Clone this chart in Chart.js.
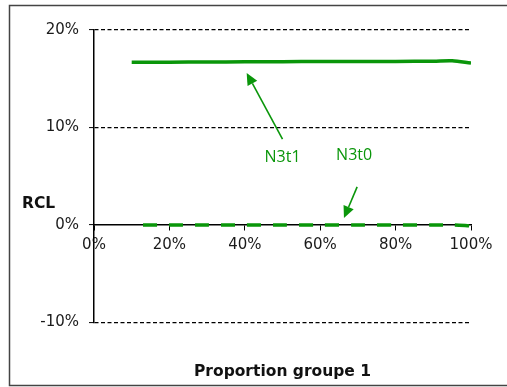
<!DOCTYPE html>
<html>
<head>
<meta charset="utf-8">
<script src="https://cdn.jsdelivr.net/npm/chart.js@4/dist/chart.umd.min.js"></script>
<style>
    html, body { margin: 0; padding: 0; background: #fff; overflow: hidden; }
    canvas { display: block; }
</style>
</head>
<body>
<canvas id="chart" width="507" height="387"></canvas>
<script>
// data (percent)
const xN3t1 = [10, 20, 30, 40, 50, 60, 70, 80, 90, 95, 100];
const yN3t1 = [16.7, 16.7, 16.72, 16.73, 16.75, 16.76, 16.77, 16.78, 16.8, 16.85, 16.6];
const xN3t0 = [13, 20, 30, 40, 50, 60, 70, 80, 90, 95, 100];
const yN3t0 = [0, 0, 0, 0, 0, 0, 0, 0, 0, 0, -0.1];

const yMin = -10, yMax = 20, yStep = 10;
const xMin = 0, xMax = 100, xStep = 20;

// labels with arrows, in data units
const labelN3t1 = { text: 'N3t1', at: [50, 6.9], from: [50, 8.8], to: [40.5, 15.6] };
const labelN3t0 = { text: 'N3t0', at: [69, 7.1], from: [69.8, 3.9], to: [66.3, 0.7] };

const green = '#0a960a';
const tickFont = { family: 'DejaVu Sans', size: 15 };

function toPoints(xs, ys) {
    return xs.map((x, i) => ({ x: x, y: ys[i] }));
}

// outer box: left, top and bottom edges only (right edge falls outside the picture)
const frame = {
    id: 'frame',
    beforeDraw(chart) {
        const ctx = chart.ctx;
        ctx.save();
        ctx.strokeStyle = '#444';
        ctx.lineWidth = 1.5;
        ctx.beginPath();
        ctx.moveTo(chart.width + 5, 5.5);
        ctx.lineTo(9.5, 5.5);
        ctx.lineTo(9.5, 385.5);
        ctx.lineTo(chart.width + 5, 385.5);
        ctx.stroke();
        ctx.restore();
    }
};

const notesPlugin = {
    id: 'notes',
    afterDatasetsDraw(chart) {
        const ctx = chart.ctx;
        const xs = chart.scales.x, ys = chart.scales.y;
        ctx.save();
        // y axis name, written flat above the 0% tick
        ctx.fillStyle = '#111';
        ctx.font = 'bold 15.5px "DejaVu Sans"';
        ctx.textAlign = 'left';
        ctx.textBaseline = 'middle';
        ctx.fillText('RCL', 22, ys.getPixelForValue(2.2));

        [labelN3t1, labelN3t0].forEach(n => {
            ctx.fillStyle = green;
            ctx.strokeStyle = green;
            ctx.font = '16px "Open Sans"';
            ctx.textAlign = 'center';
            ctx.fillText(n.text, xs.getPixelForValue(n.at[0]), ys.getPixelForValue(n.at[1]));

            const x1 = xs.getPixelForValue(n.from[0]), y1 = ys.getPixelForValue(n.from[1]);
            const x2 = xs.getPixelForValue(n.to[0]), y2 = ys.getPixelForValue(n.to[1]);
            const a = Math.atan2(y2 - y1, x2 - x1);
            const len = 12, half = 5.5;
            const bx = x2 - len * Math.cos(a), by = y2 - len * Math.sin(a);
            ctx.lineWidth = 1.6;
            ctx.beginPath();
            ctx.moveTo(x1, y1);
            ctx.lineTo(bx, by);
            ctx.stroke();
            ctx.beginPath();
            ctx.moveTo(x2, y2);
            ctx.lineTo(bx + half * Math.sin(a), by - half * Math.cos(a));
            ctx.lineTo(bx - half * Math.sin(a), by + half * Math.cos(a));
            ctx.closePath();
            ctx.fill();
        });
        ctx.restore();
    }
};

new Chart(document.getElementById('chart'), {
    type: 'line',
    data: {
        datasets: [{
            label: 'N3t1',
            data: toPoints(xN3t1, yN3t1),
            borderColor: green,
            borderWidth: 3.5,
            pointRadius: 0,
            tension: 0.3,
            fill: false
        }, {
            label: 'N3t0',
            data: toPoints(xN3t0, yN3t0),
            borderColor: green,
            borderWidth: 3.5,
            borderDash: [14, 12],
            pointRadius: 0,
            tension: 0.3,
            fill: false
        }]
    },
    options: {
        responsive: false,
        animation: false,
        events: [],
        layout: { padding: { left: 0, right: 36, top: 30, bottom: 0 } },
        plugins: {
            legend: { display: false },
            tooltip: { enabled: false },
            title: {
                display: true,
                position: 'bottom',
                fullSize: false,
                text: 'Proportion groupe 1',
                color: '#111',
                font: { family: 'DejaVu Sans', size: 15.5, weight: 'bold' },
                padding: { top: 40, bottom: 6 }
            }
        },
        scales: {
            x: {
                type: 'linear',
                min: xMin,
                max: xMax,
                position: { y: 0 },
                afterFit(scale) { scale.height = 0; },
                ticks: {
                    stepSize: xStep,
                    padding: 6,
                    color: '#1a1a1a',
                    font: tickFont,
                    maxRotation: 0,
                    callback: v => v + '%'
                },
                grid: { drawOnChartArea: false, tickLength: 5, tickColor: '#000', tickWidth: 1 },
                border: { display: true, color: '#000', width: 1.5 }
            },
            y: {
                min: yMin,
                max: yMax,
                afterFit(scale) { scale.width = 94; },
                ticks: {
                    stepSize: yStep,
                    padding: 10,
                    color: '#1a1a1a',
                    font: tickFont,
                    callback: v => v + '%'
                },
                grid: {
                    color: ctx => ctx.tick && ctx.tick.value === 0 ? 'rgba(0,0,0,0)' : '#000',
                    lineWidth: 1.2,
                    tickLength: 5,
                    tickColor: '#000',
                    tickWidth: 1
                },
                border: { display: true, color: '#000', width: 1.5, dash: [4, 2.5] }
            }
        }
    },
    plugins: [frame, notesPlugin]
});
</script>
</body>
</html>
